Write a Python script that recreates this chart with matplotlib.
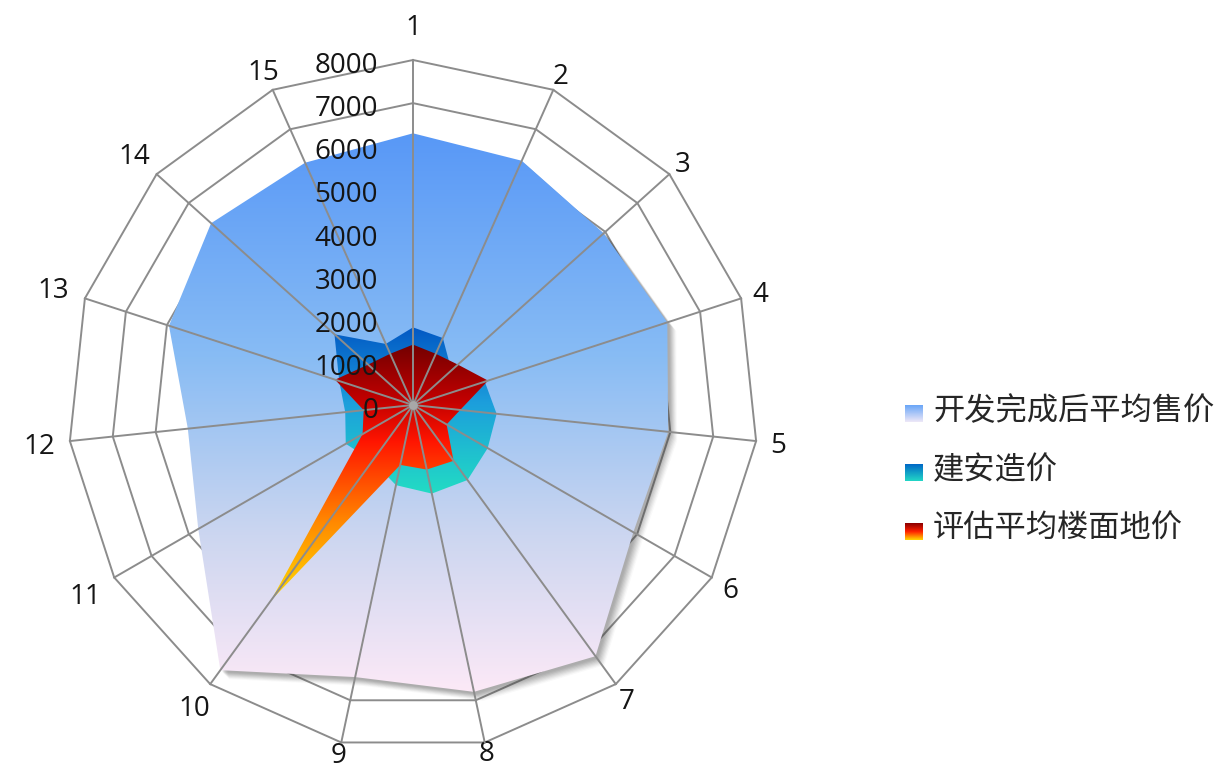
import numpy as np
import matplotlib.pyplot as plt
import matplotlib.transforms as mtransforms
from matplotlib.patches import Polygon
from matplotlib.colors import LinearSegmentedColormap

# data
categories = [str(i) for i in range(1, 16)]
sale_price = [6300, 6200, 5950, 6200, 5950, 5900, 7200, 6800, 6450, 7600, 5750, 5250, 5950, 6300, 6150]
build_cost = [1800, 1700, 1200, 1750, 1950, 2000, 2150, 2100, 1900, 1600, 1800, 1580, 1800, 2450, 1550]
land_price = [1400, 1300, 1400, 1830, 1100, 900, 1600, 1530, 1420, 5600, 1350, 1150, 1900, 1400, 1300]
ticks = [0, 1000, 2000, 3000, 4000, 5000, 6000, 7000, 8000]
series_names = ['开发完成后平均售价', '建安造价', '评估平均楼面地价']

W, H = 1225, 771
fig = plt.figure(figsize=(W / 100, H / 100), dpi=100)

# centre of the radar and outer ring radius in pixels
cx, cy = 413, 405
r_out = 345
v_max = ticks[-1]
k = v_max / r_out  # data units per pixel
half = 390
ax = fig.add_axes([(cx - half) / W, (H - cy - half) / H, 2 * half / W, 2 * half / H])
ax.set_xlim(-half * k, half * k)
ax.set_ylim(-half * k, half * k)
ax.axis('off')

n = len(categories)
theta = np.arange(n) * 2 * np.pi / n
grid_col = '#8C8C8C'
txt_col = '#151515'


def xy(vals):
    vals = np.asarray(vals, float)
    return vals * np.sin(theta), vals * np.cos(theta)


def grad_fill(vals, cmap, z):
    xs, ys = xy(vals)
    poly = Polygon(np.column_stack([xs, ys]), closed=True, fc='none', ec='none')
    ax.add_patch(poly)
    g = np.linspace(0, 1, 256).reshape(-1, 1)
    im = ax.imshow(g, cmap=cmap, extent=(xs.min(), xs.max(), ys.min(), ys.max()),
                   origin='upper', aspect='auto', zorder=z, interpolation='bilinear')
    im.set_clip_path(poly)


# rings
for t in ticks[1:]:
    x, y = xy([t] * n)
    ax.plot(np.r_[x, x[0]], np.r_[y, y[0]], color=grid_col, lw=1.4, zorder=1)

sale_cmap = LinearSegmentedColormap.from_list('sale', [(0, '#5898F7'), (0.4, '#88BCF4'),
                                                       (0.72, '#CCD6F0'), (1, '#FCE9F7')])
cost_cmap = LinearSegmentedColormap.from_list('cost', [(0, '#0258C4'), (0.45, '#1C9EDC'),
                                                       (1, '#22DCC4')])
land_cmap = LinearSegmentedColormap.from_list('land', [(0, '#730000'), (0.22, '#C20000'),
                                                       (0.38, '#FF1500'), (0.7, '#FF8A00'),
                                                       (1, '#FFDB00')])

# soft drop shadow under the first series
xs, ys = xy(sale_price)
pts = np.column_stack([xs, ys])
for d, a in [(9, .03), (8, .05), (7, .06), (6, .07), (5, .08), (4, .09), (3, .09), (2, .06)]:
    tr = mtransforms.offset_copy(ax.transData, fig=fig, x=d, y=-d, units='dots')
    ax.add_patch(Polygon(pts, closed=True, fc='#404040', ec='none', alpha=a,
                         transform=tr, zorder=2))

grad_fill(sale_price, sale_cmap, 3)
grad_fill(build_cost, cost_cmap, 4)
grad_fill(land_price, land_cmap, 5)

# spokes on top
for th in theta:
    ax.plot([0, v_max * np.sin(th)], [0, v_max * np.cos(th)], color=grid_col, lw=1.4, zorder=6)
ax.scatter([0], [0], s=40, color='#A8A8A8', zorder=7, linewidths=0)

# value labels along the first spoke
for t in ticks:
    ax.text(-35 * k, t - 13 * k, str(t), ha='right', va='baseline', fontsize=20,
            family='Open Sans', color=txt_col, zorder=8)

# category labels
label_r = [380, 362, 363, 365, 367, 366, 364, 354, 356, 372, 378, 376, 378, 375, 367]
for lab, th, rr in zip(categories, theta, label_r):
    ax.text(rr * k * np.sin(th), rr * k * np.cos(th) - 10 * k, lab, ha='center',
            va='baseline', fontsize=20, family='Open Sans', color=txt_col)

# legend
leg_maps = [LinearSegmentedColormap.from_list('l1', ['#6AA6F8', '#EEE8F7']),
            LinearSegmentedColormap.from_list('l2', ['#0068C6', '#22D6C6']),
            LinearSegmentedColormap.from_list('l3', ['#8B0000', '#FF2000', '#FFD800'])]
row_y = [411, 470, 529]
for name, cm, yy in zip(series_names, leg_maps, row_y):
    mk = fig.add_axes([905 / W, (H - yy - 11) / H, 18 / W, 17 / H])
    mk.imshow(np.linspace(0, 1, 64).reshape(-1, 1), cmap=cm, aspect='auto')
    mk.axis('off')
    fig.text(933 / W, (H - yy) / H, name, ha='left', va='center', fontsize=22.5,
             family=['Noto Sans CJK SC', 'DejaVu Sans'], color='#262626')

fig.savefig('out.png', dpi=100)
